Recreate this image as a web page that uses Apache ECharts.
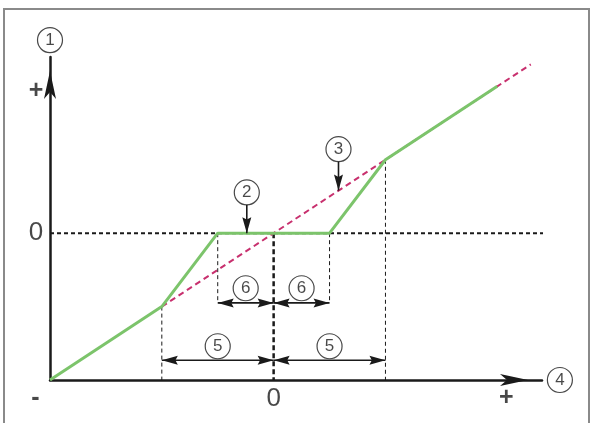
<!DOCTYPE html>
<html><head><meta charset="utf-8">
<script src="https://cdn.jsdelivr.net/npm/echarts@6/dist/echarts.min.js"></script>
<style>html,body{margin:0;padding:0;background:#fff}#c{width:593px;height:423px}</style>
</head><body><div id="c"></div><script>
// ---- data (axis units: both axes run from -2 to 2.4) ----
const responseX = [-2, -1, -0.5, 0.5, 1, 2];
const responseY = [-2, -1, 0, 0, 1, 2];
const referenceX = [-1, 2.3];
const referenceY = [-1, 2.3];
const zeroLineX = [-2, 2.45];
const centerLineY = [0, -2];
const guideX = [-1, -0.5, 0.5, 1];
const guideTop = [-1, 0, 0, 1];
const guideBottom = [-2, -0.95, -0.95, -2];
const spanStart = [-0.5, 0, -1, 0];
const spanEnd = [0, 0.5, 0, 1];
const spanY = [-0.95, -0.95, -1.73, -1.73];
const pointerX = [-0.24, 0.58];
const pointerFromY = [0.39, 0.98];
const pointerToY = [0, 0.58];
const calloutIds = ['1', '2', '3', '4', '5', '5', '6', '6'];
const calloutX = [-2, -0.24, 0.58, 2.56, -0.5, 0.5, -0.25, 0.25];
const calloutY = [2.63, 0.555, 1.144, -2, -1.54, -1.54, -0.75, -0.75];
const signText = ['+', '0', '-', '0', '+'];
const signBold = [true, false, true, false, true];
const signX = [-2.125, -2.125, -2.13, 0, 2.08];
const signY = [1.93, 0, -2.24, -2.25, -2.25];
const axisMin = -2, axisMax = 2.4;

const zip = (a, b) => a.map((v, i) => [v, b[i]]);
const INK = '#1a1a1a';
const FONT = '"Liberation Sans", Arial, sans-serif';

const guideSeries = guideX.map((x, i) => ({
  type: 'line', silent: true, symbol: 'none', clip: false, z: 2,
  data: [[x, guideTop[i]], [x, guideBottom[i]]],
  lineStyle: { color: INK, width: 1, type: [4, 3] }
}));

function arrowHead(tip, from, len, half, color) {
  const dx = tip[0] - from[0], dy = tip[1] - from[1];
  const d = Math.sqrt(dx * dx + dy * dy) || 1;
  const ux = dx / d, uy = dy / d;
  const bx = tip[0] - ux * len, by = tip[1] - uy * len;
  return {
    type: 'polygon',
    shape: { points: [tip, [bx - uy * half, by + ux * half], [tip[0] - ux * len * 0.85, tip[1] - uy * len * 0.85], [bx + uy * half, by - ux * half]] },
    style: { fill: color }
  };
}

const arrowData = [];
spanStart.forEach((s, i) => arrowData.push([s, spanY[i], spanEnd[i], spanY[i], 1, 1]));
pointerX.forEach((x, i) => arrowData.push([x, pointerFromY[i], x, pointerToY[i], 0, 1]));

const option = {
  animation: false,
  backgroundColor: '#fff',
  grid: { left: 50, right: 51, top: 57, bottom: 43, containLabel: false },
  xAxis: {
    type: 'value', min: axisMin, max: axisMax,
    axisLine: { onZero: false, symbol: ['none', 'arrow'], symbolSize: [9, 28], symbolOffset: [0, -14], lineStyle: { color: INK, width: 2.5 } },
    axisTick: { show: false }, axisLabel: { show: false }, splitLine: { show: false }
  },
  yAxis: {
    type: 'value', min: axisMin, max: axisMax,
    axisLine: { onZero: false, symbol: ['none', 'arrow'], symbolSize: [9, 28], symbolOffset: [0, -14], lineStyle: { color: INK, width: 2.5 } },
    axisTick: { show: false }, axisLabel: { show: false }, splitLine: { show: false }
  },
  graphic: [{
    type: 'rect', silent: true, z: -1,
    shape: { x: 4, y: 9, width: 585, height: 430 },
    style: { fill: 'none', stroke: '#8a8a8a', lineWidth: 2 }
  }],
  series: [
    {
      type: 'line', silent: true, symbol: 'none', clip: false, z: 2,
      data: zeroLineX.map(x => [x, 0]),
      lineStyle: { color: INK, width: 2, type: [4, 3] }
    },
    {
      type: 'line', silent: true, symbol: 'none', clip: false, z: 2,
      data: centerLineY.map(y => [0, y]),
      lineStyle: { color: INK, width: 2.5, type: [5, 3] }
    },
    ...guideSeries,
    {
      type: 'line', silent: true, symbol: 'none', clip: false, z: 3,
      data: zip(referenceX, referenceY),
      lineStyle: { color: '#c8306e', width: 2, type: [6, 4] }
    },
    {
      type: 'line', silent: true, symbol: 'none', clip: false, z: 4,
      data: zip(responseX, responseY),
      lineStyle: { color: '#7cc46b', width: 3 }
    },
    {
      type: 'custom', silent: true, z: 5,
      data: arrowData,
      renderItem: function (params, api) {
        const p1 = api.coord([api.value(0), api.value(1)]);
        const p2 = api.coord([api.value(2), api.value(3)]);
        const children = [{
          type: 'line', shape: { x1: p1[0], y1: p1[1], x2: p2[0], y2: p2[1] },
          style: { stroke: INK, lineWidth: 1.6 }
        }];
        if (api.value(4)) children.push(arrowHead(p1, p2, 16, 4.5, INK));
        if (api.value(5)) children.push(arrowHead(p2, p1, 16, 4.5, INK));
        return { type: 'group', children: children };
      }
    },
    {
      type: 'scatter', silent: true, clip: false, z: 6,
      symbol: 'circle', symbolSize: 25,
      data: calloutIds.map((t, i) => ({ value: [calloutX[i], calloutY[i]], name: t })),
      itemStyle: { color: '#fff', borderColor: INK, borderWidth: 1.2 },
      label: { show: true, position: 'inside', formatter: p => p.name, color: INK, fontSize: 17, fontFamily: FONT }
    },
    {
      type: 'scatter', silent: true, clip: false, z: 6,
      symbolSize: 0,
      data: signText.map((t, i) => ({
        value: [signX[i], signY[i]], name: t,
        label: { fontWeight: signBold[i] ? 'bold' : 'normal', fontSize: signBold[i] ? 25 : 26 }
      })),
      label: {
        show: true, position: 'inside', formatter: p => p.name, color: INK, fontSize: 26,
        fontFamily: FONT
      }
    }
  ]
};
const chart = echarts.init(document.getElementById('c'), null, { renderer: 'canvas' });
chart.setOption(option);
</script></body></html>
